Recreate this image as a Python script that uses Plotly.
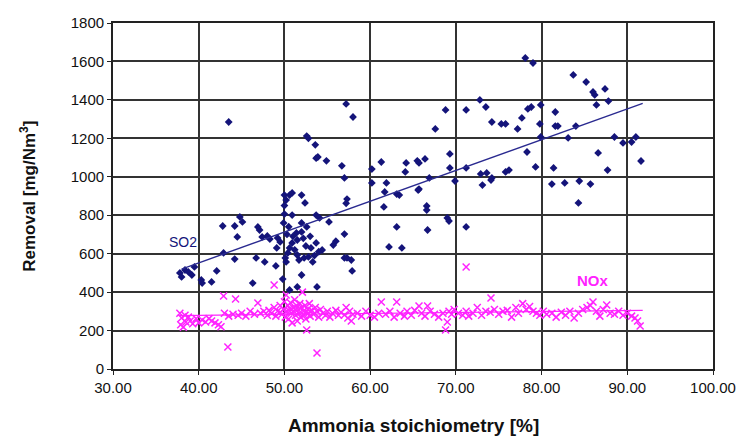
import plotly.graph_objects as go

# ---- data ----
so2_x = [37.8, 38.0, 38.4, 38.8, 39.2, 39.5, 40.3, 40.4, 41.5, 42.1, 42.8, 44.2, 44.5, 44.8, 45.1,
         42.9, 44.2, 46.3, 46.7, 47.1, 47.7, 48.0, 48.3, 49.0, 49.2, 49.5, 49.8, 50.0, 50.0, 50.2,
         50.6, 50.9, 52.0, 52.4, 50.9, 50.1, 50.4, 50.2, 49.1, 51.4, 52.0, 51.5, 50.9, 50.6, 51.5,
         51.7, 52.3, 52.8, 53.3, 53.1, 53.7, 54.4, 52.0, 50.6, 51.5, 53.8, 52.6, 53.7, 54.1, 52.0,
         46.9, 47.4, 43.5, 57.2, 58.0, 52.6, 52.8, 53.6, 53.7, 53.9, 54.9, 56.7, 57.0, 57.3, 57.2,
         55.7, 57.0, 57.0, 57.3, 57.8, 57.9, 55.2, 50.0, 51.0, 50.3, 52.5, 51.2, 53.0, 56.0, 54.0,
         50.5, 49.9, 52.2, 53.5,
         60.2, 61.3, 60.2, 61.9, 61.7, 63.1, 64.2, 64.1, 65.5, 65.7, 66.4, 65.7, 66.9, 67.6, 68.8,
         69.3, 69.3, 69.9, 71.2, 71.2, 72.8, 73.5, 74.2, 75.3, 75.8, 72.9, 73.6, 74.2, 73.1, 75.8,
         76.2, 78.1, 79.0, 83.7, 85.2, 86.0, 86.2, 87.4, 86.4, 87.8, 79.9, 78.8, 78.4, 77.7, 77.2,
         81.6, 79.8, 81.6, 81.9, 84.0, 79.9, 83.1, 78.3, 79.3, 81.4, 86.6, 87.7, 88.5, 89.5, 90.5,
         91.0, 91.6, 81.2, 82.7, 84.4, 85.7, 84.3, 61.6, 63.4, 66.6, 66.6, 69.0, 69.2, 63.1, 66.7,
         71.2, 62.2, 63.7, 65.6, 74.1]
so2_y = [500, 479, 515, 505, 489, 531, 463, 447, 453, 510, 744, 744, 687, 791, 765,
         604, 572, 447, 578, 723, 557, 692, 676, 536, 682, 661, 468, 806, 905, 879,
         905, 916, 905, 864, 801, 578, 604, 557, 630, 708, 713, 671, 656, 630, 593,
         567, 578, 583, 557, 630, 656, 619, 489, 411, 427, 427, 739, 801, 786, 760,
         739, 687, 1285, 1379, 1311, 1212, 1200, 1166, 1097, 1103, 1083, 1057, 994, 884, 862,
         645, 702, 578, 578, 567, 510, 765, 850, 690, 700, 640, 620, 690, 665, 610,
         740, 760, 680, 590,
         1040, 1077, 968, 968, 921, 910, 1072, 1025, 1083, 1072, 1093, 936, 994, 1249, 1348,
         1119, 1046, 978, 1348, 1046, 1400, 1363, 1285, 1275, 1275, 1015, 1020, 994, 957, 1025,
         1035, 1618, 1592, 1530, 1493, 1441, 1426, 1457, 1374, 1394, 1374, 1363, 1353, 1306, 1249,
         1337, 1275, 1264, 1264, 1264, 1207, 1202, 1129, 1051, 1046, 1124, 1035, 1207, 1176, 1181,
         1207, 1082, 962, 968, 978, 962, 864, 843, 905, 848, 827, 786, 770, 739, 723,
         739, 635, 630, 931, 983]

nox_x = [37.8, 38.0, 38.2, 38.5, 38.8, 39.0, 39.3, 39.7, 40.0, 40.4, 40.8, 41.2, 41.5, 41.9, 42.3,
         42.6, 37.9, 38.4,
         43.0, 42.9, 43.5, 44.0, 44.3, 44.6, 45.0, 45.5, 46.0, 46.5, 46.9, 47.2, 47.6, 48.0, 48.8,
         48.2, 48.5, 48.8, 49.0, 49.2, 49.5, 49.7, 49.9, 50.0, 50.1, 50.2, 50.3, 50.4, 50.5, 50.6,
         50.7, 50.8, 50.9, 51.0, 51.1, 51.2, 51.3, 51.4, 51.5, 51.6, 51.7, 51.8, 51.9, 52.0, 52.1,
         52.2, 52.3, 52.4, 52.5, 52.6, 52.7, 52.8, 52.9, 53.0, 53.2, 53.4, 53.6, 53.8, 54.0, 54.2,
         54.5, 54.8, 55.0, 55.3, 55.6, 56.0, 56.3, 56.6, 57.0, 57.2, 57.4, 57.6, 57.8, 58.0, 50.6,
         51.3, 52.5, 53.0, 49.5,
         58.5, 59.0, 59.5, 60.0, 60.5, 61.0, 61.3, 61.8, 62.3, 62.8,
         63.1, 63.5, 64.0, 64.3, 64.8, 65.2, 65.7, 66.0, 66.4, 66.7, 67.0, 67.5, 68.0, 68.5, 68.8,
         69.0, 69.2, 69.5, 69.8,
         70.3, 70.8, 71.2, 71.5, 72.0, 72.5, 73.0, 73.5, 74.1, 74.0, 74.5, 75.0, 75.5, 76.0, 76.5,
         77.0, 77.3, 77.8, 78.2, 78.6, 79.0, 79.4, 79.8,
         80.2, 80.6, 81.2, 81.7, 82.3, 82.8, 83.3, 83.8, 84.3, 84.8, 85.3, 85.7, 86.0, 86.4, 86.8,
         87.2, 87.6, 88.0, 88.5, 89.0, 89.5, 90.0, 90.5, 90.9, 91.2, 91.5,
         43.4, 53.8, 71.2]
nox_y = [290, 265, 218, 245, 270, 250, 235, 262, 240, 255, 245, 262, 250, 240, 230,
         220, 230, 280,
         290, 380, 275, 285, 364, 280, 290, 275, 300, 285, 343, 290, 300, 280, 437,
         305, 290, 320, 275, 300, 330, 285, 310, 350, 270, 385, 300, 330, 260, 315,
         345, 290, 240, 320, 300, 360, 280, 330, 250, 310, 290, 340, 270, 320, 400,
         300, 280, 330, 260, 203, 310, 290, 340, 275, 305, 285, 320, 300, 270, 310,
         290, 280, 300, 270, 290, 305, 280, 295, 281, 320, 265, 300, 250, 285, 300,
         310, 295, 300, 295,
         290, 275, 300, 280, 270, 290, 349, 285, 300, 270,
         349, 290, 275, 300, 280, 305, 328, 290, 275, 328, 300, 285, 270, 290, 203,
         245, 300, 285, 310,
         290, 280, 300, 275, 290, 320, 280, 300, 369, 295, 310, 285, 300, 305, 270,
         320, 290, 340, 310, 325, 300, 290, 280,
         300, 285, 290, 270, 295, 280, 300, 265, 290, 310, 320, 330, 349, 300, 275,
         310, 333, 290, 285, 300, 280, 290, 275, 265, 250, 224,
         114, 83, 531]

# linear trend lines (end values)
so2_fit_x = [38.0, 91.8]
so2_fit_y = [520, 1382]
nox_fit_x = [37.8, 91.8]
nox_fit_y = [278, 305]

x_ticks = [30, 40, 50, 60, 70, 80, 90, 100]
y_ticks = [0, 200, 400, 600, 800, 1000, 1200, 1400, 1600, 1800]

NAVY = "#14147a"
MAG = "#ff22ff"
FONT = "Liberation Sans, Arial, sans-serif"

fig = go.Figure()
fig.add_trace(go.Scatter(x=nox_x, y=nox_y, mode="markers",
                         marker=dict(symbol="x-thin-open", size=7, color=MAG,
                                     line=dict(color=MAG, width=1.5)),
                         showlegend=False))
fig.add_trace(go.Scatter(x=nox_fit_x, y=nox_fit_y, mode="lines",
                         line=dict(color=MAG, width=1.2), showlegend=False))
fig.add_trace(go.Scatter(x=so2_x, y=so2_y, mode="markers",
                         marker=dict(symbol="diamond", size=6, color=NAVY),
                         showlegend=False))
fig.add_trace(go.Scatter(x=so2_fit_x, y=so2_fit_y, mode="lines",
                         line=dict(color="#2a2a90", width=1.4), showlegend=False))

fig.add_annotation(x=38.2, y=661, text="SO2", showarrow=False,
                   font=dict(family=FONT, size=14, color=NAVY))
fig.add_annotation(x=86.0, y=458, text="<b>NOx</b>", showarrow=False,
                   font=dict(family=FONT, size=15, color=MAG))

fig.add_annotation(xref="paper", yref="paper", x=-0.142, y=0.5,
                   xanchor="center", yanchor="middle",
                   text="<b>Removal [mg/Nm<sup>3</sup>]</b>", textangle=-90,
                   showarrow=False, font=dict(family=FONT, size=17, color="#111"))
fig.add_annotation(xref="paper", yref="paper", x=0.5, y=-0.162,
                   xanchor="center", yanchor="middle",
                   text="<b>Ammonia stoichiometry [%]</b>", showarrow=False,
                   font=dict(family=FONT, size=19, color="#111"))

axis_common = dict(showgrid=True, gridcolor="#333333", gridwidth=1.6,
                   showline=True, linecolor="#222", linewidth=1.8, mirror=True,
                   ticks="outside", ticklen=4, tickcolor="#222", zeroline=False,
                   tickfont=dict(family=FONT, size=15, color="#111"))

fig.update_xaxes(range=[30, 100], tickvals=x_ticks,
                 ticktext=[f"{v:.2f}" for v in x_ticks], **axis_common)
fig.update_yaxes(range=[0, 1800], tickvals=y_ticks,
                 ticktext=[str(v) for v in y_ticks], **axis_common)

fig.update_layout(width=750, height=439,
                  margin=dict(l=113, r=37, t=23, b=70),
                  paper_bgcolor="white", plot_bgcolor="white",
                  font=dict(family=FONT))

fig.write_html("out.html")
